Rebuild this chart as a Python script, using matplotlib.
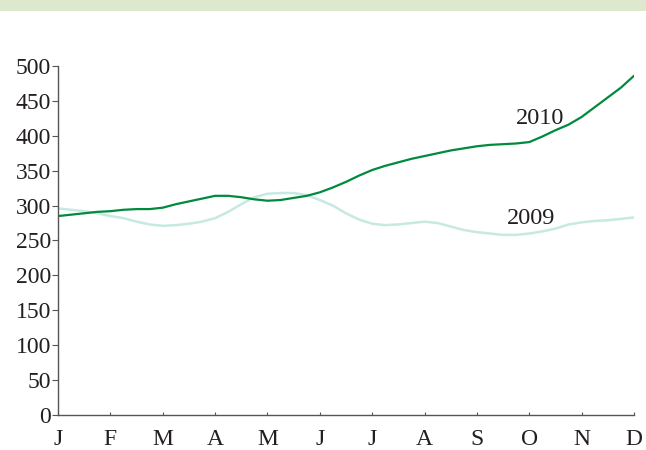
import numpy as np
import matplotlib
matplotlib.use('Agg')
import matplotlib.pyplot as plt
from matplotlib.patches import Rectangle

# month labels and quarter-month sample positions
months = ['J', 'F', 'M', 'A', 'M', 'J', 'J', 'A', 'S', 'O', 'N', 'D']
pos = np.arange(45) / 4.0

# values
y2010 = [285, 287, 289, 291, 292, 294, 295, 295, 297, 302, 306, 310,
         314, 314, 312, 309, 307, 308, 311, 314, 319, 326, 334, 343,
         351, 357, 362, 367, 371, 375, 379, 382, 385, 387, 388, 389,
         391, 399, 408, 416, 427, 441, 455, 469, 486]
y2009 = [296, 294, 292, 289, 285, 282, 277, 273, 271, 272, 274, 277,
         282, 291, 302, 312, 317, 318, 318, 315, 308, 300, 289, 280,
         274, 272, 273, 275, 277, 275, 270, 265, 262, 260, 258, 258,
         260, 263, 267, 273, 276, 278, 279, 281, 283]

plt.rcParams['font.family'] = ['Liberation Serif', 'DejaVu Serif']

fig = plt.figure(figsize=(6.46, 4.5), dpi=100)
fig.patches.append(Rectangle((0, 1 - 11 / 450), 1, 11 / 450, transform=fig.transFigure,
                             facecolor='#dde8cc', edgecolor='none'))
ax = fig.add_axes([58 / 646, 1 - 415 / 450, 576 / 646, 349 / 450])

ax.plot(pos, y2009, color='#c6e9e2', lw=1.8, solid_capstyle='round', solid_joinstyle='round')
ax.plot(pos, y2010, color='#008a3e', lw=1.6, solid_capstyle='round', solid_joinstyle='round')

ax.text(9.2, 425, '2010', fontsize=17.5, ha='center', va='center', color='#231f20')
ax.text(9.04, 282, '2009', fontsize=17.5, ha='center', va='center', color='#231f20')

ax.set_xlim(0, 11)
ax.set_ylim(0, 500)
ax.set_xticks(range(12))
ax.set_xticklabels(months)
ax.set_yticks(range(0, 501, 50))
for s in ['top', 'right']:
    ax.spines[s].set_visible(False)
for s in ['left', 'bottom']:
    ax.spines[s].set_color('#555555')
    ax.spines[s].set_linewidth(1.0)
ax.tick_params(axis='y', direction='out', length=4, width=0.8, color='#555555',
               labelsize=17, pad=1, labelcolor='#231f20')
ax.tick_params(axis='x', direction='in', length=2, width=0.8, color='#555555',
               labelsize=17, pad=10, labelcolor='#231f20')

fig.savefig('out.png', dpi=100)
